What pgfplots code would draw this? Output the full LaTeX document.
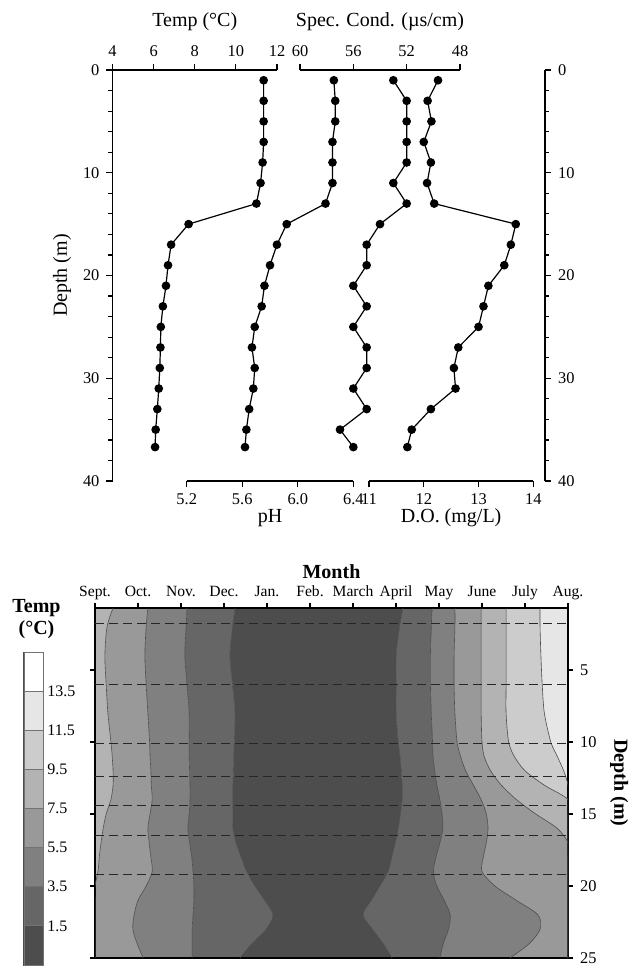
\documentclass[border=0pt]{standalone}
\usepackage{fontspec}
\setmainfont{Liberation Serif}
\usepackage{pgfplots}
\usepackage{pgfplotstable}
\pgfplotsset{compat=1.18}

\definecolor{c0}{HTML}{4D4D4D}
\definecolor{c1}{HTML}{666666}
\definecolor{c2}{HTML}{808080}
\definecolor{c3}{HTML}{999999}
\definecolor{c4}{HTML}{B3B3B3}
\definecolor{c5}{HTML}{CCCCCC}
\definecolor{c6}{HTML}{E6E6E6}
\definecolor{c7}{HTML}{FFFFFF}

\newcommand\tickfont{\fontsize{8.2}{9}\selectfont}
\newcommand\labfont{\fontsize{10}{11}\selectfont}

\pgfplotstableread{
d    T     pH    SC  DO
1    11.35 6.26  53  12.26
3    11.35 6.27  52  12.07
5    11.35 6.27  52  12.14
7    11.35 6.25  52  12.00
9    11.30 6.25  52  12.13
11   11.20 6.25  53  12.06
13   11.00 6.20  52  12.19
15   7.70  5.92  54  13.68
17   6.85  5.85  55  13.59
19   6.70  5.80  55  13.47
21   6.60  5.76  56  13.18
23   6.45  5.74  55  13.09
25   6.35  5.69  56  13.00
27   6.33  5.67  55  12.63
29   6.30  5.69  55  12.55
31   6.25  5.68  56  12.58
33   6.18  5.65  55  12.13
35   6.10  5.63  57  11.78
36.7 6.07  5.62  56  11.70
}\profile

% isotherm positions (month index, Sept = 0) at each depth
% B1: 7.5, B2: 5.5, B3: 3.5, B4: 1.5 (cooling); B5: 1.5, B6: 3.5, B7: 5.5, B8: 7.5, B9: 9.5, B10: 11.5 (warming)
\pgfplotstableread{
d   L  B1   B2   B3   B4   B5   B6   B7    B8    B9    B10   R
0.7 0  0.42 1.23 2.14 3.26 7.16 7.84 8.37  8.98  9.56  10.35 11
2   0  0.28 1.19 2.12 3.20 7.08 7.82 8.37  8.98  9.56  10.35 11
4   0  0.23 1.16 2.09 3.14 7.00 7.80 8.35  8.98  9.56  10.37 11
6   0  0.26 1.19 2.14 3.20 7.00 7.80 8.35  8.98  9.56  10.40 11
8   0  0.30 1.23 2.19 3.26 7.00 7.82 8.37  8.98  9.56  10.45 11
10  0  0.37 1.27 2.19 3.24 7.05 7.85 8.42  9.00  9.62  10.60 11
11  0  0.40 1.28 2.19 3.23 7.09 7.86 8.50  9.05  9.75  10.75 11
12  0  0.42 1.30 2.20 3.22 7.12 7.90 8.62  9.20  10.00 10.90 11
13  0  0.42 1.31 2.21 3.21 7.14 7.95 8.80  9.45  10.45 11    11
14  0  0.37 1.33 2.21 3.21 7.14 8.02 8.98  9.80  11    11    11
15  0  0.26 1.28 2.19 3.20 7.10 8.07 9.10  10.25 11    11    11
16  0  0.19 1.23 2.16 3.21 7.05 8.09 9.14  10.75 11    11    11
17  0  0.14 1.26 2.20 3.28 6.98 8.02 9.10  11    11    11    11
18  0  0.10 1.30 2.25 3.40 6.90 7.93 9.03  11    11    11    11
19  0  0.07 1.33 2.28 3.53 6.81 7.87 9.00  11    11    11    11
20  0  0    1.19 2.30 3.72 6.62 7.95 9.30  11    11    11    11
21  0  0    1.00 2.30 3.95 6.42 8.12 9.80  11    11    11    11
22  0  0    0.91 2.28 4.14 6.23 8.26 10.30 11    11    11    11
23  0  0    0.88 2.26 3.98 6.45 8.22 10.35 11    11    11    11
24  0  0    0.98 2.26 3.65 6.70 8.10 10.10 11    11    11    11
25  0  0    1.12 2.26 3.37 6.91 8.02 9.65  11    11    11    11
}\iso

\pgfplotsset{
  prof/.style={scale only axis, anchor=north west, height=205.5pt,
    ymin=0, ymax=40, y dir=reverse, clip=false,
    tick align=outside, major tick length=3pt, minor tick length=2pt,
    axis line style={line width=0.6pt, black},
    every tick/.style={line width=0.6pt, black},
    tick label style={font=\tickfont},
    label style={font=\labfont}},
  ser/.style={black, line width=0.6pt, mark=*, mark size=1.85pt,
    mark options={solid, fill=black}},
  topx/.style={axis x line*=top, axis y line=none,
    xlabel style={at={(axis description cs:0.5,1)}, anchor=center, yshift=24pt}},
  botx/.style={axis x line*=bottom, axis y line=none,
    xlabel style={at={(axis description cs:0.5,0)}, anchor=center, yshift=-18.5pt}},
  contgeo/.style={scale only axis, anchor=north west, at={(47.5pt,-304pt)},
    width=236.5pt, height=175pt, xmin=0, xmax=11, ymin=0.7, ymax=25, y dir=reverse},
  band/.style={fill=#1, draw=none, smooth, tension=0.5},
  iso/.style={black!70, line width=0.3pt, smooth, tension=0.5},
  dep/.style={black!85, line width=0.5pt, dash pattern=on 4.5pt off 2.5pt},
}

\begin{document}
\begin{tikzpicture}
\useasboundingbox (0,0) rectangle (314pt,-489.5pt);

% ---------- depth axes of the profile ----------
\begin{axis}[prof, at={(56.25pt,-35pt)}, width=216.25pt, xmin=0, xmax=1,
  axis x line=none, axis y line*=left,
  ytick={0,10,20,30,40}, yticklabels={0,10,20,30,40},
  minor ytick={2,4,...,38},
  ylabel={Depth (m)},
  ylabel style={at={(axis description cs:0,0.5)}, anchor=center, yshift=25.25pt}]
\end{axis}
\begin{axis}[prof, at={(56.25pt,-35pt)}, width=216.25pt, xmin=0, xmax=1,
  axis x line=none, axis y line*=right,
  ytick={0,10,20,30,40}, yticklabels={0,10,20,30,40},
  minor ytick={2,4,...,38}]
\end{axis}

% ---------- Temp ----------
\begin{axis}[prof, topx, at={(56.25pt,-35pt)}, width=82.25pt, xmin=4, xmax=12,
  xtick={4,6,8,10,12}, xticklabels={4,6,8,10,12}, xlabel={Temp (°C)}]
\addplot[ser] table[x=T, y=d]{\profile};
\end{axis}

% ---------- Spec. Cond. ----------
\begin{axis}[prof, topx, at={(150pt,-35pt)}, width=80pt, xmin=48, xmax=60, x dir=reverse,
  xtick={48,52,56,60}, xticklabels={48,52,56,60}, xlabel={Spec. Cond. (µs/cm)}]
\addplot[ser] table[x=SC, y=d]{\profile};
\end{axis}

% ---------- pH ----------
\begin{axis}[prof, botx, at={(93.35pt,-35pt)}, width=83.3pt, xmin=5.2, xmax=6.4,
  xtick={5.2,5.6,6.0,6.4}, xticklabels={5.2,5.6,6.0,6.4}, xlabel={pH}]
\addplot[ser] table[x=pH, y=d]{\profile};
\end{axis}

% ---------- D.O. ----------
\begin{axis}[prof, botx, at={(184.5pt,-35pt)}, width=82.15pt, xmin=11, xmax=14,
  xtick={11,12,13,14}, xticklabels={11,12,13,14}, xlabel={D.O. (mg/L)}]
\addplot[ser] table[x=DO, y=d]{\profile};
\end{axis}

% ---------- contour plot: filled bands (stacked along x) ----------
\begin{axis}[contgeo, hide axis, stack plots=x]
\addplot[band=c4] table[x=B1, y=d]{\iso} \closedcycle;
\addplot[band=c3] table[x expr=\thisrow{B2}-\thisrow{B1}, y=d]{\iso} \closedcycle;
\addplot[band=c2] table[x expr=\thisrow{B3}-\thisrow{B2}, y=d]{\iso} \closedcycle;
\addplot[band=c1] table[x expr=\thisrow{B4}-\thisrow{B3}, y=d]{\iso} \closedcycle;
\addplot[band=c0] table[x expr=\thisrow{B5}-\thisrow{B4}, y=d]{\iso} \closedcycle;
\addplot[band=c1] table[x expr=\thisrow{B6}-\thisrow{B5}, y=d]{\iso} \closedcycle;
\addplot[band=c2] table[x expr=\thisrow{B7}-\thisrow{B6}, y=d]{\iso} \closedcycle;
\addplot[band=c3] table[x expr=\thisrow{B8}-\thisrow{B7}, y=d]{\iso} \closedcycle;
\addplot[band=c4] table[x expr=\thisrow{B9}-\thisrow{B8}, y=d]{\iso} \closedcycle;
\addplot[band=c5] table[x expr=\thisrow{B10}-\thisrow{B9}, y=d]{\iso} \closedcycle;
\addplot[band=c6] table[x expr=\thisrow{R}-\thisrow{B10}, y=d]{\iso} \closedcycle;
\end{axis}

% ---------- contour plot: isotherms, depth lines, frame ----------
\begin{axis}[contgeo,
  tick align=outside, major tick length=2.5pt,
  axis line style={line width=0.6pt, black},
  every tick/.style={line width=0.6pt, black},
  xtick={0,...,11},
  xticklabels={Sept.,Oct.,Nov.,Dec.,Jan.,Feb.,March,April,May,June,July,Aug.},
  xtick pos=right, xticklabel pos=right,
  x tick label style={font=\fontsize{7.8}{8}\selectfont, inner sep=1pt,
    text height=1.6ex, text depth=0.4ex},
  ytick={5,10,15,20,25}, yticklabels={5,10,15,20,25},
  ytick pos=both, yticklabel pos=right,
  y tick label style={font=\tickfont},
  xlabel={Month}, xlabel style={font=\bfseries\labfont, yshift=-3pt},
  ylabel={Depth (m)}, ylabel style={font=\bfseries\labfont, rotate=180}]
\addplot[iso] table[x=B1, y=d]{\iso};
\addplot[iso] table[x=B2, y=d]{\iso};
\addplot[iso] table[x=B3, y=d]{\iso};
\addplot[iso] table[x=B4, y=d]{\iso};
\addplot[iso] table[x=B5, y=d]{\iso};
\addplot[iso] table[x=B6, y=d]{\iso};
\addplot[iso] table[x=B7, y=d]{\iso};
\addplot[iso] table[x=B8, y=d]{\iso};
\addplot[iso] table[x=B9, y=d]{\iso};
\addplot[iso] table[x=B10, y=d]{\iso};
\addplot[dep] coordinates {(0,1.8) (11,1.8)};
\addplot[dep] coordinates {(0,6.0) (11,6.0)};
\addplot[dep] coordinates {(0,10.1) (11,10.1)};
\addplot[dep] coordinates {(0,12.4) (11,12.4)};
\addplot[dep] coordinates {(0,14.4) (11,14.4)};
\addplot[dep] coordinates {(0,16.5) (11,16.5)};
\addplot[dep] coordinates {(0,19.2) (11,19.2)};
\end{axis}

% ---------- colour key ----------
\begin{axis}[scale only axis, anchor=north west, at={(12pt,-326pt)},
  width=9.5pt, height=156.5pt, xmin=0, xmax=1, ymin=0, ymax=8, clip=false,
  xtick=\empty, ytick={1,...,7},
  yticklabels={1.5,3.5,5.5,7.5,9.5,11.5,13.5},
  ytick pos=right, yticklabel pos=right, major tick length=0pt,
  y tick label style={font=\fontsize{8}{9}\selectfont, inner sep=2pt},
  axis line style={line width=0.5pt, black!70},
  title={Temp\\(°C)},
  title style={align=center, font=\bfseries\labfont, yshift=-3pt, xshift=1.5pt}]
\addplot[fill=c0, draw=black!55, line width=0.4pt] coordinates {(0,0) (1,0) (1,1) (0,1)} -- cycle;
\addplot[fill=c1, draw=black!55, line width=0.4pt] coordinates {(0,1) (1,1) (1,2) (0,2)} -- cycle;
\addplot[fill=c2, draw=black!55, line width=0.4pt] coordinates {(0,2) (1,2) (1,3) (0,3)} -- cycle;
\addplot[fill=c3, draw=black!55, line width=0.4pt] coordinates {(0,3) (1,3) (1,4) (0,4)} -- cycle;
\addplot[fill=c4, draw=black!55, line width=0.4pt] coordinates {(0,4) (1,4) (1,5) (0,5)} -- cycle;
\addplot[fill=c5, draw=black!55, line width=0.4pt] coordinates {(0,5) (1,5) (1,6) (0,6)} -- cycle;
\addplot[fill=c6, draw=black!55, line width=0.4pt] coordinates {(0,6) (1,6) (1,7) (0,7)} -- cycle;
\addplot[fill=c7, draw=black!55, line width=0.4pt] coordinates {(0,7) (1,7) (1,8) (0,8)} -- cycle;
\end{axis}
\end{tikzpicture}
\end{document}
